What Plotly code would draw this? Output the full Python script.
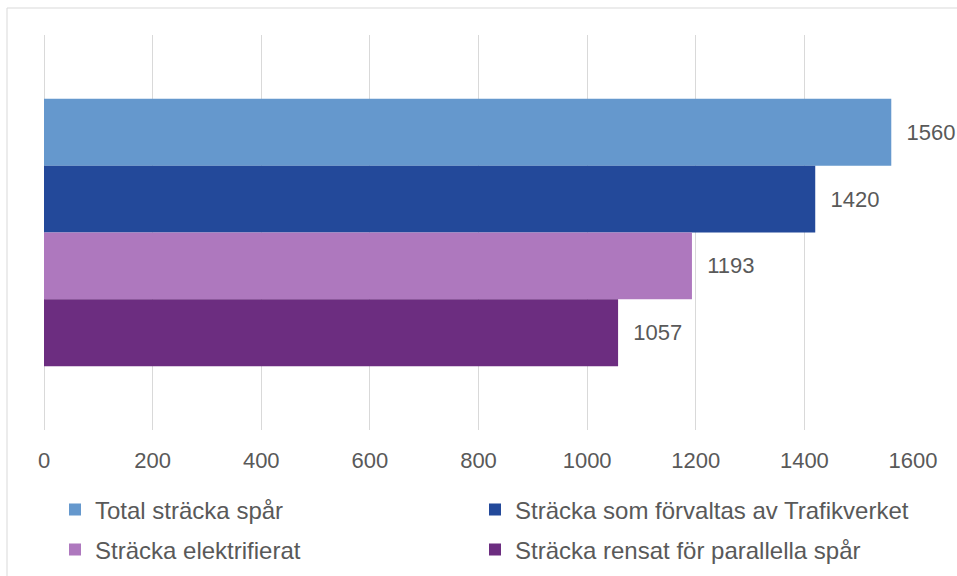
import plotly.graph_objects as go

category = ["Spår"]
series_names = [
    "Total sträcka spår",
    "Sträcka som förvaltas av Trafikverket",
    "Sträcka elektrifierat",
    "Sträcka rensat för parallella spår",
]
series_values = [1560, 1420, 1193, 1057]
series_colors = ["#6598CD", "#23499A", "#AE78BE", "#6C2D80"]
legend_ids = ["legend", "legend2", "legend3", "legend4"]
x_ticks = [0, 200, 400, 600, 800, 1000, 1200, 1400, 1600]

W, H = 957, 576
ML, MR, MT, MB = 44, 44, 35, 146
PW, PH = W - ML - MR, H - MT - MB
FONT = "Liberation Sans, Arial, sans-serif"
GRAY = "#595959"
NB = "\u00a0"

fig = go.Figure()
for name, val, col, lg in zip(series_names, series_values, series_colors, legend_ids):
    fig.add_trace(go.Bar(
        y=category, x=[val], name=name, orientation="h",
        marker=dict(color=col, line=dict(width=0)),
        text=[f"{NB}{NB}{val}"], textposition="outside", cliponaxis=False,
        constraintext="none",
        textfont=dict(family=FONT, size=22, color=GRAY),
        legend=lg,
    ))

leg_common = dict(orientation="h", xref="container", yref="container",
                  xanchor="left", yanchor="middle",
                  font=dict(family=FONT, size=24, color=GRAY),
                  bgcolor="rgba(0,0,0,0)")

fig.update_layout(
    width=W, height=H,
    margin=dict(l=ML, r=MR, t=MT, b=MB, pad=0),
    paper_bgcolor="white", plot_bgcolor="white",
    barmode="group", bargap=0.323, bargroupgap=0,
    font=dict(family=FONT, size=22, color=GRAY),
    xaxis=dict(range=[0, 1600], tickvals=x_ticks, showgrid=True,
               gridcolor="#D9D9D9", gridwidth=1, zeroline=True,
               zerolinecolor="#D9D9D9", zerolinewidth=1, showline=False,
               ticks="", ticklabelstandoff=15,
               tickfont=dict(family=FONT, size=22, color=GRAY)),
    yaxis=dict(autorange="reversed", showticklabels=False, showgrid=False,
               zeroline=False, showline=False),
    legend=dict(x=55 / W, y=1 - 510 / H, **leg_common),
    legend2=dict(x=475 / W, y=1 - 510 / H, **leg_common),
    legend3=dict(x=55 / W, y=1 - 550 / H, **leg_common),
    legend4=dict(x=475 / W, y=1 - 550 / H, **leg_common),
    showlegend=True,
)

# outer chart border (extends past the cropped right/bottom edges)
fig.add_shape(type="rect", xref="paper", yref="paper",
              x0=(7 - ML) / PW, x1=(W + 20 - ML) / PW,
              y0=1 - (H + 20 - MT) / PH, y1=1 - (8 - MT) / PH,
              line=dict(color="#D9D9D9", width=1), fillcolor="rgba(0,0,0,0)",
              layer="below")

fig.write_html("out.html")
